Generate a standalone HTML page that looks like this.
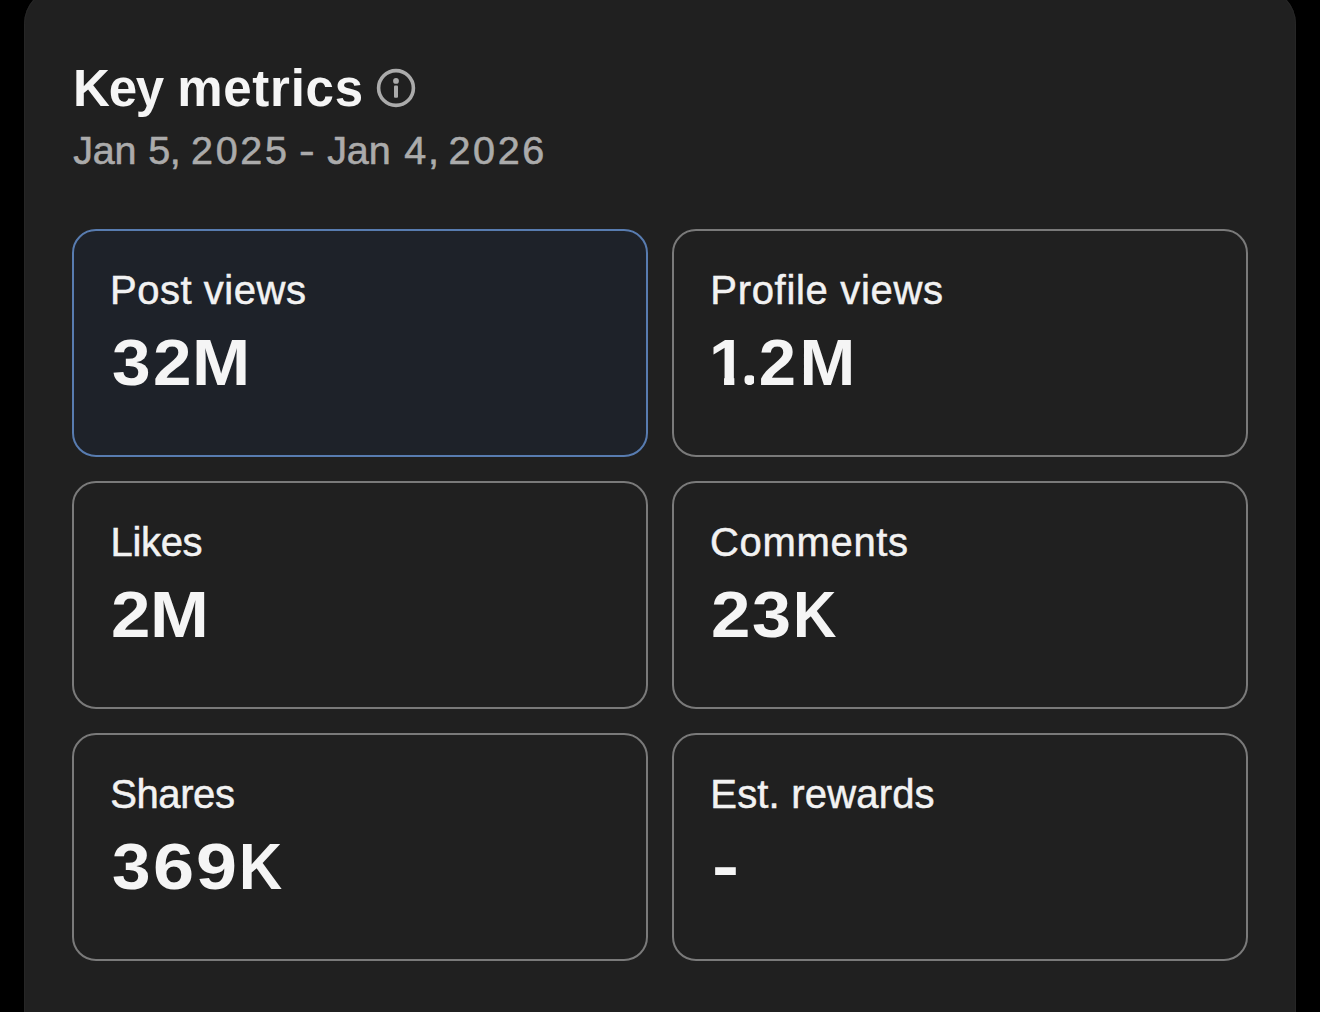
<!DOCTYPE html>
<html>
<head>
<meta charset="utf-8">
<title>Key metrics</title>
<style>

html, body { margin: 0; padding: 0; }
body { width: 1320px; height: 1012px; overflow: hidden; background: #000;
  font-family: "Liberation Sans", Arial, sans-serif; position: relative; }
.panel { position: absolute; left: 24px; top: -12px; width: 1272px; height: 1100px;
  background: #202020; border-radius: 36px; box-shadow: inset 0 0 0 1px #262626; }
.card { position: absolute; width: 576px; height: 228px; box-sizing: border-box;
  border: 2px solid #7a7a7a; border-radius: 24px; background: #202020; }
.card.sel { border-color: #587cb0; background: #1e2229; }
.t { position: absolute; white-space: nowrap; line-height: 1; transform-origin: 0 0; }
.c1 { display: inline-block; margin-right: -6px; clip-path: polygon(0 0, 100% 0, 100% 47px, 24.6px 47px, 24.6px 100%, 14.6px 100%, 14.6px 47px, 0 47px); }
.cd { display: inline-block; clip-path: circle(5.4px at 9.2px 49.8px); }
.g { display: inline-block; transform-origin: 0 0; }
.w { display: inline-block; transform-origin: 0 0; }
.info { position: absolute; left: 376px; top: 68px; width: 40px; height: 40px; }

</style>
</head>
<body>
<div class="panel"></div>
<div class="card sel" style="left:72px; top:229px;"></div>
<div class="card" style="left:672px; top:229px;"></div>
<div class="card" style="left:72px; top:481px;"></div>
<div class="card" style="left:672px; top:481px;"></div>
<div class="card" style="left:72px; top:733px;"></div>
<div class="card" style="left:672px; top:733px;"></div>
<svg class="info" viewBox="0 0 40 40">
  <circle cx="20" cy="20" r="17.4" fill="none" stroke="#ababab" stroke-width="3.6"/>
  <circle cx="20" cy="12.9" r="2.9" fill="#ababab"/>
  <rect x="18" y="17.6" width="4" height="12.2" rx="1" fill="#ababab"/>
</svg>
<div class="t" style="left:73.22px; top:131px; font-size:39.5px; color:#ababab; -webkit-text-stroke:0.6px #ababab;"><span class="w" style="width:64.05px; letter-spacing:-0.2px;">Jan</span> <span class="w" style="width:31.79px; letter-spacing:-0.4px;">5,</span> <span class="w" style="width:97.15px; letter-spacing:2.666px;">2025</span> <span class="w" style="width:17.07px; letter-spacing:1.0px; transform:scaleX(1.19);">-</span> <span class="w" style="width:66.15px; letter-spacing:-0.1px;">Jan</span> <span class="w" style="width:33.25px; letter-spacing:1.8px;">4,</span> <span class="w" style="width:60.00px; letter-spacing:2.6px;">2026</span></div>
<div class="t" style="left:73.0px; top:62.5px; font-size:51px; font-weight:bold; color:#f5f5f5;"><span style="letter-spacing:-1.2px">Key</span> <span style="letter-spacing:0.75px">metrics</span></div>
<div class="t" style="left:110.0px; top:270px; font-size:40px; font-weight:normal; color:#f2f2f2; letter-spacing:0.526px; -webkit-text-stroke:0.5px #f2f2f2;">Post views</div>
<div class="t" style="left:112.43px; top:330px; font-size:65px; font-weight:bold; color:#f5f5f5;"><span class="g" style="width:41.04px; transform:scaleX(1.0682)">3</span><span class="g" style="width:38.74px; transform:scaleX(1.0656)">2</span><span class="g" style="width:58.16px; transform:scaleX(1.0739)">M</span></div>
<div class="t" style="left:710.28px; top:270px; font-size:40px; font-weight:normal; color:#f2f2f2; letter-spacing:0.695px; -webkit-text-stroke:0.5px #f2f2f2;">Profile views</div>
<div class="t" style="left:709.14px; top:330px; font-size:65px; font-weight:bold; color:#f5f5f5; transform:scaleX(1.03);"><span class="c1">1</span><span class="cd">.</span><span style="letter-spacing:3.5px">2</span>M</div>
<div class="t" style="left:110.49px; top:522px; font-size:40px; font-weight:normal; color:#f2f2f2; letter-spacing:-0.33px; -webkit-text-stroke:0.5px #f2f2f2;">Likes</div>
<div class="t" style="left:111.12px; top:582px; font-size:65px; font-weight:bold; color:#f5f5f5;"><span class="g" style="width:39.03px; transform:scaleX(1.0906)">2</span><span class="g" style="width:58.87px; transform:scaleX(1.0870)">M</span></div>
<div class="t" style="left:710.07px; top:522px; font-size:40px; font-weight:normal; color:#f2f2f2; letter-spacing:0.669px; -webkit-text-stroke:0.5px #f2f2f2;">Comments</div>
<div class="t" style="left:711.12px; top:582px; font-size:65px; font-weight:bold; color:#f5f5f5;"><span class="g" style="width:40.80px; transform:scaleX(1.0906)">2</span><span class="g" style="width:41.07px; transform:scaleX(1.0788)">3</span><span class="g" style="width:43.49px; transform:scaleX(0.9262)">K</span></div>
<div class="t" style="left:110.28px; top:774px; font-size:40px; font-weight:normal; color:#f2f2f2; letter-spacing:-0.41px; -webkit-text-stroke:0.5px #f2f2f2;">Shares</div>
<div class="t" style="left:112.23px; top:834px; font-size:65px; font-weight:bold; color:#f5f5f5;"><span class="g" style="width:40.79px; transform:scaleX(1.0667)">3</span><span class="g" style="width:43.21px; transform:scaleX(1.1375)">6</span><span class="g" style="width:42.49px; transform:scaleX(1.1344)">9</span><span class="g" style="width:43.15px; transform:scaleX(0.9190)">K</span></div>
<div class="t" style="left:710.28px; top:774px; font-size:40px; font-weight:normal; color:#f2f2f2; letter-spacing:0.188px; -webkit-text-stroke:0.5px #f2f2f2;">Est. rewards</div>
<div class="t" style="left:712.31px; top:833px; font-size:65px; font-weight:bold; color:#f5f5f5;"><span class="g" style="width:27.01px; transform:scaleX(1.2471)">-</span></div>
</body>
</html>
